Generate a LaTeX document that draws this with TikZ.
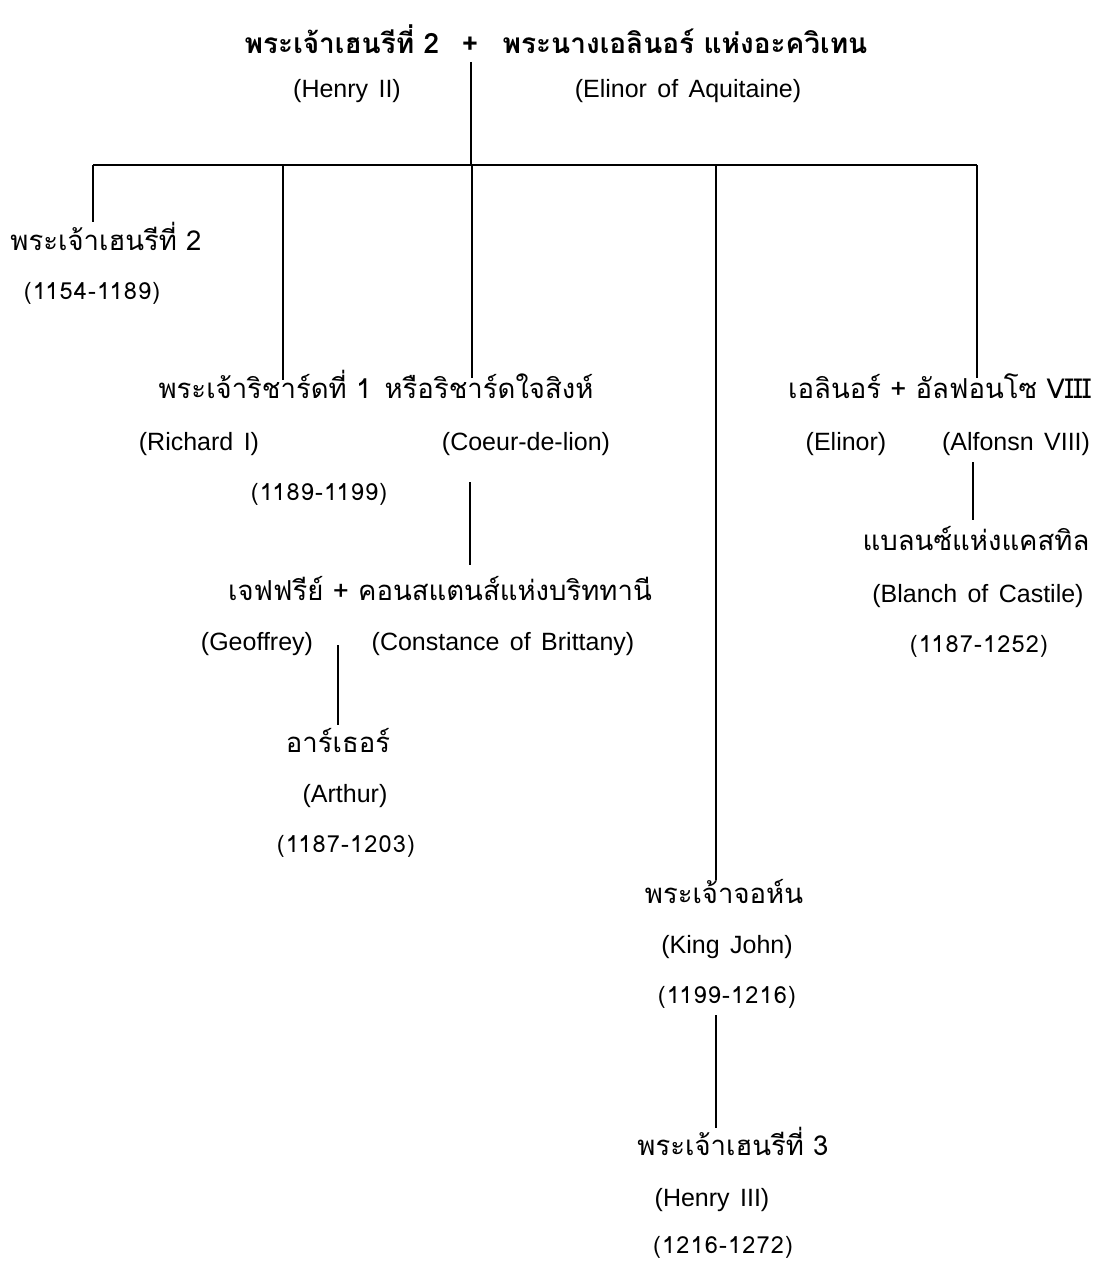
\documentclass[tikz,border=0pt]{standalone}
\usepackage{fontspec}
\setmainfont{Liberation Sans}[WordSpace=1.5]
\newfontfamily\thai[Script=Thai]{Loma}
\newfontfamily\yrfont{Loma}[LetterSpace=5]
\begin{document}
\begin{tikzpicture}[x=1pt,y=-1pt,
  th/.style={font=\thai\fontsize{27.5}{30}\selectfont, inner sep=0pt, anchor=base},
  thb/.style={font=\thai\bfseries\fontsize{28}{30}\selectfont, inner sep=0pt, anchor=base},
  en/.style={font=\fontsize{25}{30}\selectfont, inner sep=0pt, anchor=base},
  yr/.style={font=\yrfont\fontsize{23.5}{26}\selectfont, inner sep=0pt, anchor=base},
  ln/.style={line width=2.4pt}]
\useasboundingbox (0,0) rectangle (1097,1263);
% title
\node[thb] (h2t) at (342,54) {พระเจ้าเฮนรีที่ 2};
\node[thb] (plus) at (470,54) {+};
\node[thb] (elt) at (685,54) {พระนางเอลินอร์ แห่งอะควิเทน};
\node[en] (h2e) at (347,97) {(Henry II)};
\node[en] (ele) at (688,97) {(Elinor of Aquitaine)};
% Henry (left)
\node[th] (hl) at (106,250) {พระเจ้าเฮนรีที่ 2};
\node[yr] (hly) at (92,299) {(1154-1189)};
% Richard
\node[th] (r1) at (265,398) {พระเจ้าริชาร์ดที่ 1};
\node[th] (r2) at (489,398) {หรือริชาร์ดใจสิงห์};
\node[en] (r1e) at (199,450) {(Richard I)};
\node[en] (r2e) at (526,450) {(Coeur-de-lion)};
\node[yr] (ry) at (319,500) {(1189-1199)};
% Geoffrey
\node[th] (g) at (440,600) {เจฟฟรีย์ + คอนสแตนส์แห่งบริททานี};
\node[en] (ge) at (257,650) {(Geoffrey)};
\node[en] (ce) at (503,650) {(Constance of Brittany)};
% Arthur
\node[th] (a) at (338,752) {อาร์เธอร์};
\node[en] (ae) at (345,802) {(Arthur)};
\node[yr] (ay) at (346,852) {(1187-1203)};
% John
\node[th] (j) at (724,903) {พระเจ้าจอห์น};
\node[en] (je) at (727,953) {(King John)};
\node[yr] (jy) at (727,1003) {(1199-1216)};
% Henry III
\node[th] (h3) at (733,1155) {พระเจ้าเฮนรีที่ 3};
\node[en] (h3e) at (712,1206) {(Henry III)};
\node[yr] (h3y) at (723,1253) {(1216-1272)};
% Elinor + Alfonso
\node[th, anchor=base west] (ea) at (788,398) {เอลินอร์ + อัลฟอนโซ VIII};
\node[en] (ee) at (846,450) {(Elinor)};
\node[en] (ae2) at (1016,450) {(Alfonsn VIII)};
% Blanch
\node[th] (b) at (976,550) {แบลนซ์แห่งแคสทิล};
\node[en] (be) at (978,602) {(Blanch of Castile)};
\node[yr] (by) at (979,652) {(1187-1252)};
% connector coordinates
\coordinate (top) at (471,62);
\coordinate (bar) at (471,165);
\coordinate (bL) at (93,165);
\coordinate (bR) at (283,165);
\coordinate (bC) at (472,165);
\coordinate (bJ) at (716,165);
\coordinate (bE) at (977,165);
\coordinate (eL) at (93,222);
\coordinate (eR) at (283,380);
\coordinate (eC) at (472,378);
\coordinate (eJ) at (716,880);
\coordinate (eE) at (977,378);
\coordinate (g1) at (470,482);
\coordinate (g2) at (470,565);
\coordinate (a1) at (338,645);
\coordinate (a2) at (338,725);
\coordinate (b1) at (973,462);
\coordinate (b2) at (973,520);
\coordinate (h1) at (716,1015);
\coordinate (h2) at (716,1128);
\draw[ln] (top) -- (bar);
\draw[ln] (bL) -- (bE);
\draw[ln] (bL) -- (eL);
\draw[ln] (bR) -- (eR);
\draw[ln] (bC) -- (eC);
\draw[ln] (bJ) -- (eJ);
\draw[ln] (bE) -- (eE);
\draw[ln] (g1) -- (g2);
\draw[ln] (a1) -- (a2);
\draw[ln] (b1) -- (b2);
\draw[ln] (h1) -- (h2);
\end{tikzpicture}
\end{document}
